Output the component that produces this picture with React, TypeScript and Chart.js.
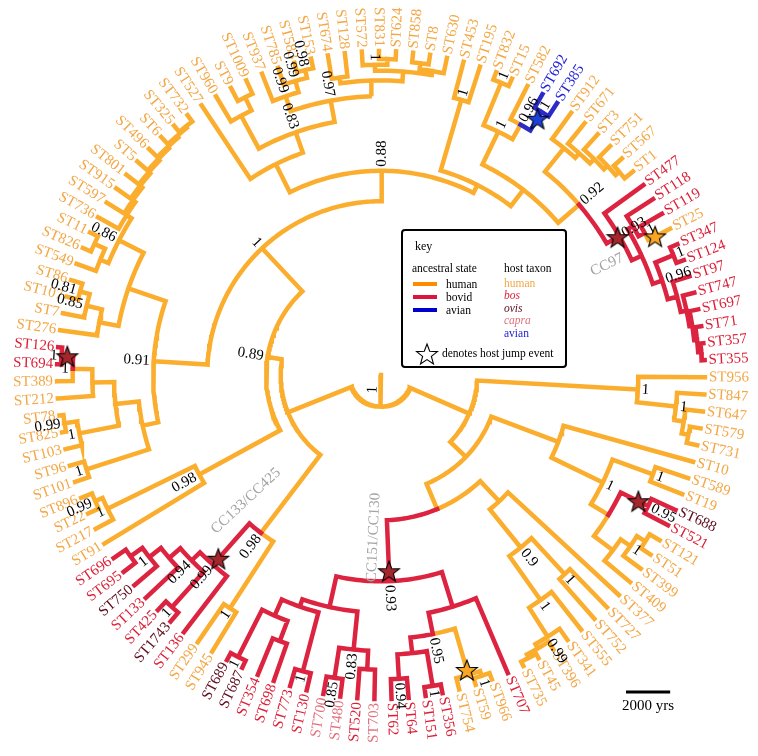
import React, { useEffect, useRef } from 'react';
import { Chart, registerables } from 'chart.js';

Chart.register(...registerables);

// ---------------- data ----------------
// tree topology (clockwise tip order, starting at the east), internal nodes named
const cladeA = '(ST956,(ST847,(ST647,(ST579,ST731)a1)a2)a3)A';
const cladeB1 = '(ST10,((ST589,ST19)rp,((ST688,ST521)red,(((ST121,ST51)d1,ST399)d2,ST409)D)C)B1b)B1';
const cladeB2b = '(ST377,((ST727,ST752)p1,(ST555,(ST341,(ST396,(ST45,ST735)q1)q2)q3)q4)N09)B2b';
const cladeCC151 = '((ST707,(((ST966,ST59)o1,ST754)o2,((ST356,ST151)r1,(ST64,ST62)r2)r3)N77)N72,(((ST703,ST520)s1,(ST480,ST700)s2)s3,((ST130,ST773)t1,((ST698,ST354)t2,(ST687,ST689)t3)t4)N111)N103)CC151';
const cladeLa = '((ST945,ST299)e1,(ST136,((ST1743,ST425)f1,(ST133,(ST750,(ST695,ST696)f2)f3)f4)f5)CC133)La';
const cladeG150 = '(ST91,(ST217,(ST22,ST896)g1)g2)G150';
const cladeN168 = '((ST101,ST96)h1,((ST103,(ST825,ST78)h3)h2,(ST212,(ST389,(ST694,ST126)h5)h4)N178)N172)N168';
const cladeU = '((ST276,(ST7,(ST107,ST86)u2)u1)U190,((ST549,(ST826,ST11)v2)v1,(ST736,(ST597,(ST915,(ST801,(ST5,(ST496,(ST6,(ST325,ST732)w8)w7)w6)w5)w4)w3)w2)w1)N086)U';
const cladeTL = '(ST527,((ST960,(ST9,ST1009)x1)G238,((ST937,(ST785,(ST583,ST153)y2)y1)Gc,((ST674,ST128)z1,((ST572,(ST831,ST624)z4)z3,((ST858,ST8)z6,ST630)z5)z2)G264)G255)TL247)TL';
const cladeQ = '((ST832,ST15)m1,(ST582,(ST692,ST385)m3)m2)Q';
const cladeW = '(ST912,(ST671,(ST3,(ST751,(ST567,ST1)we)wd)wc)wb)wa';
const cladeCC97 = '(ST477,((ST118,(ST119,ST25)c1)N118,((ST347,ST124)c2,(ST97,(ST747,(ST697,(ST71,(ST357,ST355)c7)c6)c5)c4)c3)Nlow)Nrest)CC97';

const rightClade = `(${cladeA},(${cladeB1},(${cladeB2b},${cladeCC151})B2)B)R`;
const leftClade = `(${cladeLa},(${cladeG150},((${cladeN168},${cladeU})N091,(${cladeTL},((ST453,ST195)k1,(${cladeQ},(${cladeW},${cladeCC97})Z)P)R297)N088)ONE)N089)L`;
const TREE = `(${rightClade},${leftClade})root`;

// internal node ages (years before present)
const nodeNames = ['root','R','A','a3','a2','a1','B','B1','B1b','rp','C','red','D','d2','d1','B2','B2b','N09','p1','q4','q3','q2','q1','CC151','N72','N77','o2','o1','r3','r1','r2','N103','s3','s1','s2','N111','t1','t4','t2','t3','L','La','e1','CC133','f5','f1','f4','f3','f2','N089','G150','g2','g1','ONE','N091','N168','h1','N172','h2','h3','N178','h4','h5','U','U190','u1','u2','N086','v1','v2','w1','w2','w3','w4','w5','w6','w7','w8','N088','TL','TL247','G238','x1','G255','Gc','y1','y2','G264','z1','z2','z3','z4','z5','z6','R297','k1','P','Q','m1','m2','m3','Z','wa','wb','wc','wd','we','CC97','Nrest','N118','c1','Nlow','c2','c3','c4','c5','c6','c7'];
const nodeAges = [13240,10310,3020,1240,800,490,9330,6090,3510,1560,2580,1200,1510,980,530,8090,6840,4620,2400,2180,620,400,220,5330,3690,2710,530,310,2000,400,890,3910,2180,1330,800,3560,800,2760,1780,360,10130,5690,2090,3200,2670,530,2000,1330,670,9470,5290,890,530,6800,4360,3640,670,2580,760,180,1600,710,180,2580,1690,980,530,1330,930,400,1070,930,800,710,620,530,440,360,5420,4000,3020,1330,670,2040,1330,800,440,1330,1070,890,620,360,710,440,5020,1690,4090,2440,360,1690,710,2840,1470,1200,930,710,490,2180,1690,1420,1110,1240,360,800,530,400,270,130];

// posterior support labels
const supportNodes = ['root','A','a3','rp','red','d2','B1b','p1','q3','q4','N09','o1','r1','r2','N77','s3','s2','t1','t3','CC151','e1','f1','f3','f5','CC133','La','g1','g2','G150','h1','h2','h3','h4','h5','u1','u2','N086','N091','TL247','G255','Gc','y1','y2','z3','k1','m1','m2','m3','Q','Z','CC97','c1','c2','Nlow','N088','ONE','N089'];
const supportValues = ['1','1','1','1','0.95','1','1','1','0.99','1','0.9','1','1','0.94','0.95','0.83','0.85','1','1','0.93','1','1','1','0.94','0.99','0.98','0.99','1','0.98','1','1','0.99','1','1','0.85','0.81','0.86','0.91','0.83','0.97','0.99','0.99','0.98','1','1','1','0.96','1','1','0.92','0.93','1','1','0.96','0.88','1','0.89'];

// host jump events (branch leading to node), new state, age of the jump
const jumpNodes = ['red','CC151','o2','CC133','h5','m3','CC97','ST25'];
const jumpStates = ['bovid','bovid','human','bovid','bovid','avian','bovid','human'];
const jumpAges = [1690,5780,760,3560,440,1070,2270,760];

// host taxa of the tips (others: human)
const bosTips = ['ST521','ST707','ST356','ST151','ST64','ST62','ST520','ST130','ST773','ST698','ST354','ST136','ST425','ST133','ST695','ST696','ST126','ST694','ST477','ST118','ST119','ST347','ST124','ST97','ST747','ST697','ST71','ST357','ST355'];
const ovisTips = ['ST688','ST687','ST689','ST1743','ST750'];
const capraTips = ['ST703','ST480','ST700'];
const avianTips = ['ST692','ST385'];

// clade annotations
const cladeLabelTexts = ['CC97','CC133/CC425','CC151/CC130'];
const cladeLabelAngles = [334, 137, 92.6];
const cladeLabelRadiiPx = [234, 140, 118];

const SCALE_YEARS = 2000;

// ---------------- layout / style ----------------
const W = 758, H = 756;
const CENTER = { x: 381, y: 375 };
const PX_PER_YEAR = 0.0225;
const TREE_DEPTH = 14670; // radius (years) of the present
const TIP_ANGLE_START = 0.4;
const TIP_ANGLE_STEP = 360 / 119;
const FONT = '"Liberation Serif", "Times New Roman", serif';

const branchColor = { human: '#FBAD2E', bovid: '#DC2340', avian: '#2B2BC8' };
const hostColor = { human: '#F3A746', bos: '#DC1F36', ovis: '#5E0B1C', capra: '#E2707D', avian: '#2222D6' };
const starColor = { human: '#F8A623', bovid: '#A3272B', avian: '#1E40D8' };
const legendLine = { human: '#FF8C00', bovid: '#DC143C', avian: '#0000CD' };

type TNode = { name: string; children: TNode[]; parent: TNode | null; age: number; angle: number; state: string };

function parseNewick(s: string): TNode {
  let i = 0;
  function parse(parent: TNode | null): TNode {
    const node: TNode = { name: '', children: [], parent, age: 0, angle: 0, state: 'human' };
    if (s[i] === '(') {
      i++;
      for (;;) {
        node.children.push(parse(node));
        if (s[i] === ',') { i++; continue; }
        if (s[i] === ')') { i++; break; }
        break;
      }
    }
    let name = '';
    while (i < s.length && ',()'.indexOf(s[i]) < 0) name += s[i++];
    node.name = name.trim();
    return node;
  }
  return parse(null);
}

function hostOf(name: string): string {
  if (bosTips.includes(name)) return 'bos';
  if (ovisTips.includes(name)) return 'ovis';
  if (capraTips.includes(name)) return 'capra';
  if (avianTips.includes(name)) return 'avian';
  return 'human';
}

function buildTree() {
  const root = parseNewick(TREE);
  const ageOf = new Map(nodeNames.map((n, i) => [n, nodeAges[i]]));
  const tips: TNode[] = [];
  const all: TNode[] = [];
  const walk = (n: TNode) => {
    all.push(n);
    if (!n.children.length) {
      n.angle = TIP_ANGLE_START + tips.length * TIP_ANGLE_STEP;
      n.age = 0;
      tips.push(n);
    } else {
      n.children.forEach(walk);
      n.angle = (n.children[0].angle + n.children[n.children.length - 1].angle) / 2;
      n.age = ageOf.has(n.name) ? (ageOf.get(n.name) as number) : 0;
    }
  };
  walk(root);
  const setState = (n: TNode, s: string) => {
    const j = jumpNodes.indexOf(n.name);
    n.state = j >= 0 ? jumpStates[j] : s;
    n.children.forEach((c) => setState(c, n.state));
  };
  setState(root, 'human');
  return { root, tips, all };
}

const polar = (r: number, deg: number) => ({ x: r * Math.cos((deg * Math.PI) / 180), y: r * Math.sin((deg * Math.PI) / 180) });

function makeStar(fill: string): HTMLCanvasElement {
  const c = document.createElement('canvas');
  const s = 26;
  c.width = s; c.height = s;
  const g = c.getContext('2d') as CanvasRenderingContext2D;
  g.beginPath();
  for (let k = 0; k < 10; k++) {
    const rr = k % 2 === 0 ? 11 : 4.6;
    const a = -Math.PI / 2 + (k * Math.PI) / 5;
    const px = s / 2 + rr * Math.cos(a), py = s / 2 + 1 + rr * Math.sin(a);
    if (k === 0) g.moveTo(px, py); else g.lineTo(px, py);
  }
  g.closePath();
  g.fillStyle = fill;
  g.fill();
  g.lineWidth = 1.1;
  g.strokeStyle = '#000';
  g.stroke();
  return c;
}

function radialText(ctx: CanvasRenderingContext2D, cx: number, cy: number, text: string, deg: number, rpx: number, color: string, font: string, perp = 0) {
  const d = ((deg % 360) + 360) % 360;
  const flip = d > 90 && d < 270;
  ctx.save();
  ctx.translate(cx, cy);
  ctx.font = font;
  ctx.fillStyle = color;
  ctx.textBaseline = 'middle';
  if (flip) {
    ctx.rotate(((d + 180) * Math.PI) / 180);
    ctx.textAlign = 'right';
    ctx.fillText(text, -rpx, perp);
  } else {
    ctx.rotate((d * Math.PI) / 180);
    ctx.textAlign = 'left';
    ctx.fillText(text, rpx, perp);
  }
  ctx.restore();
}

export default function App() {
  const ref = useRef<HTMLCanvasElement>(null);

  useEffect(() => {
    const canvas = ref.current;
    if (!canvas) return;
    const { root, tips, all } = buildTree();

    const lines: Record<string, any[]> = { human: [], bovid: [], avian: [] };
    all.forEach((n) => {
      const pts = lines[n.state];
      const rn = TREE_DEPTH - n.age;
      if (!n.parent) {
        pts.push(polar(0, n.angle), polar(rn, n.angle), { x: NaN, y: NaN });
        return;
      }
      const p = n.parent;
      const rp = TREE_DEPTH - p.age;
      const steps = Math.max(1, Math.ceil(Math.abs(n.angle - p.angle)));
      for (let k = 0; k <= steps; k++) pts.push(polar(rp, p.angle + ((n.angle - p.angle) * k) / steps));
      pts.push(polar(rn, n.angle));
      pts.push({ x: NaN, y: NaN });
    });

    const byName = new Map(all.map((n) => [n.name, n]));
    const starPts = jumpNodes.map((nm, i) => polar(TREE_DEPTH - jumpAges[i], (byName.get(nm) as TNode).angle));
    const starImgs = jumpStates.map((s) => makeStar((starColor as any)[s]));
    const legendStar = makeStar('#ffffff');

    const lineDs = (state: string, order: number) => ({
      label: state,
      data: lines[state],
      showLine: true,
      borderColor: (branchColor as any)[state],
      backgroundColor: (branchColor as any)[state],
      borderWidth: 4.5,
      pointRadius: 0,
      pointHoverRadius: 0,
      spanGaps: false,
      borderCapStyle: 'square',
      borderJoinStyle: 'miter',
      order,
    });

    const supOf = new Map(supportNodes.map((n, i) => [n, supportValues[i]]));

    const textPlugin = {
      id: 'treeText',
      beforeDatasetDraw(chart: any, args: any) {
        if (args.index !== 3) return;
        const ctx = chart.ctx as CanvasRenderingContext2D;
        const xs = chart.scales.x;
        const ys = chart.scales.y;
        const cx = xs.getPixelForValue(0);
        const cy = ys.getPixelForValue(0);
        const px = (v: number) => xs.getPixelForValue(v) - cx;
        const tipFont = `15px ${FONT}`;
        // tip labels
        tips.forEach((t) => {
          radialText(ctx, cx, cy, t.name, t.angle, px(TREE_DEPTH) + 4, (hostColor as any)[hostOf(t.name)], tipFont);
        });
        // support labels
        all.forEach((n) => {
          const s = supOf.get(n.name);
          if (!s) return;
          if (n === root) {
            radialText(ctx, cx, cy, s, n.angle, 11, '#000', tipFont, -8);
            return;
          }
          radialText(ctx, cx, cy, s, n.angle, px(TREE_DEPTH - n.age) + 4, '#000', tipFont);
        });
        // clade labels
        cladeLabelTexts.forEach((t, i) => {
          radialText(ctx, cx, cy, t, cladeLabelAngles[i], cladeLabelRadiiPx[i], '#A3A3A3', tipFont);
        });
      },
      afterDraw(chart: any) {
        const ctx = chart.ctx as CanvasRenderingContext2D;
        const xs = chart.scales.x;
        // scale bar
        const len = xs.getPixelForValue(SCALE_YEARS) - xs.getPixelForValue(0);
        const bx = 626, by = 692;
        ctx.save();
        ctx.strokeStyle = '#000';
        ctx.lineWidth = 3;
        ctx.beginPath();
        ctx.moveTo(bx, by);
        ctx.lineTo(bx + len, by);
        ctx.stroke();
        ctx.fillStyle = '#000';
        ctx.font = `15px ${FONT}`;
        ctx.textAlign = 'center';
        ctx.textBaseline = 'middle';
        ctx.fillText(`${SCALE_YEARS} yrs`, bx + len / 2, by + 14);
        ctx.restore();

        // key box
        ctx.save();
        const lx = 402, ly = 230, lw = 164, lh = 137;
        ctx.lineWidth = 2;
        ctx.strokeStyle = '#000';
        ctx.beginPath();
        (ctx as any).roundRect ? (ctx as any).roundRect(lx, ly, lw, lh, 3) : ctx.rect(lx, ly, lw, lh);
        ctx.stroke();
        const f = `11.5px ${FONT}`;
        const fi = `italic 11.5px ${FONT}`;
        ctx.textBaseline = 'middle';
        ctx.textAlign = 'left';
        ctx.fillStyle = '#000';
        ctx.font = `12px ${FONT}`;
        ctx.fillText('key', 415, 247);
        ctx.font = f;
        ctx.fillText('ancestral state', 412, 269);
        ctx.fillText('host taxon', 504, 269);
        const states = ['human', 'bovid', 'avian'];
        const rowsY = [284, 297, 310];
        states.forEach((s, i) => {
          ctx.strokeStyle = (legendLine as any)[s];
          ctx.lineWidth = 4;
          ctx.beginPath();
          ctx.moveTo(413, rowsY[i]);
          ctx.lineTo(437, rowsY[i]);
          ctx.stroke();
          ctx.fillStyle = '#000';
          ctx.font = f;
          ctx.fillText(s, 446, rowsY[i] + 1);
        });
        const hosts = ['human', 'bos', 'ovis', 'capra', 'avian'];
        const hostY = [284, 296, 309, 321, 334];
        hosts.forEach((h, i) => {
          ctx.fillStyle = (hostColor as any)[h];
          ctx.font = h === 'bos' || h === 'ovis' || h === 'capra' ? fi : f;
          ctx.fillText(h, 504, hostY[i]);
        });
        ctx.drawImage(legendStar, 427 - legendStar.width / 2, 354 - legendStar.height / 2);
        ctx.fillStyle = '#000';
        ctx.font = f;
        ctx.fillText('denotes host jump event', 442, 354);
        ctx.restore();
      },
    };

    const chart = new Chart(canvas, {
      type: 'scatter',
      data: {
        datasets: [
          lineDs('human', 3) as any,
          lineDs('bovid', 2) as any,
          lineDs('avian', 1) as any,
          {
            label: 'jumps',
            data: starPts,
            showLine: false,
            pointStyle: starImgs as any,
            pointRadius: 6,
            pointHoverRadius: 6,
            order: 0,
          } as any,
        ],
      },
      options: {
        animation: false,
        responsive: false,
        maintainAspectRatio: false,
        events: [],
        layout: { padding: 0 },
        plugins: { legend: { display: false }, tooltip: { enabled: false }, title: { display: false } },
        scales: {
          x: { type: 'linear', display: false, min: -CENTER.x / PX_PER_YEAR, max: (W - CENTER.x) / PX_PER_YEAR },
          y: { type: 'linear', display: false, reverse: true, min: -CENTER.y / PX_PER_YEAR, max: (H - CENTER.y) / PX_PER_YEAR },
        },
      },
      plugins: [textPlugin as any],
    });
    return () => chart.destroy();
  }, []);

  return (
    <div style={{ position: 'fixed', left: 0, top: 0, width: W, height: H, background: '#fff' }}>
      <canvas ref={ref} width={W} height={H} style={{ display: 'block', width: W, height: H }} />
    </div>
  );
}
